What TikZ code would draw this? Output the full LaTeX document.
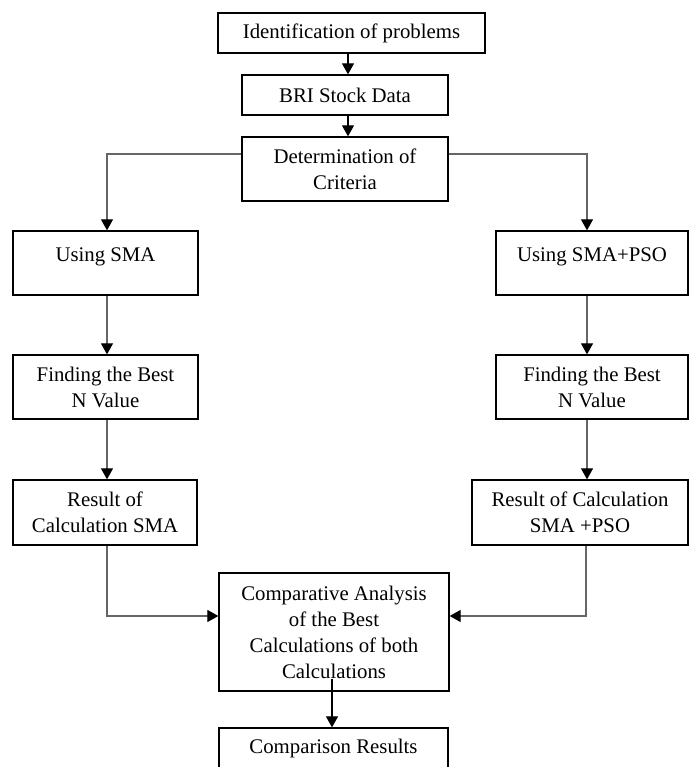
\documentclass[tikz,border=0pt]{standalone}
\usepackage{fontspec}
\setmainfont{Liberation Serif}
\usetikzlibrary{arrows.meta}

\begin{document}
\begin{tikzpicture}[x=1pt,y=1pt,
	box/.style={draw,line width=1.3pt,inner sep=0pt,align=center,minimum height=64pt,font=\fontsize{20.8}{26}\selectfont},
	arr/.style={line width=1.1pt,black!60,-{Triangle[width=12pt,length=11pt,color=black]}}]
	\useasboundingbox (0,0) rectangle (689,767);
	\node[box,minimum width=267pt,minimum height=40pt] (idp) at (351.5,734) {Identification of problems};
	\node[box,minimum width=206pt,minimum height=40pt] (bri) at (345,672) {BRI Stock Data};
	\node[box,minimum width=206pt] (crit) at (345,598) {Determination of\\Criteria};
	\node[box,minimum width=185pt,text depth=16pt] (sma) at (105.5,504) {Using SMA};
	\node[box,minimum width=192pt,text depth=16pt] (smapso) at (592,504) {Using SMA+PSO};
	\node[box,minimum width=185pt] (bestl) at (105.5,380) {Finding the Best\\N Value};
	\node[box,minimum width=192pt] (bestr) at (592,380) {Finding the Best\\N Value};
	\node[box,minimum width=184pt,minimum height=65pt] (resl) at (105,254.5) {Result of\\Calculation SMA};
	\node[box,minimum width=216pt,minimum height=65pt] (resr) at (580,254.5) {Result of Calculation\\SMA +PSO};
	\node[box,minimum width=230pt,minimum height=118pt] (cmp) at (334,135) {Comparative Analysis\\of the Best\\Calculations of both\\Calculations};
	\node[box,minimum width=229pt,minimum height=40pt] (res) at (333.5,19) {Comparison Results};
	\draw[arr,black] (idp.south -| 348,0) -- (bri.north -| 348,0);
	\draw[arr,black] (bri.south -| 348,0) -- (crit.north -| 348,0);
	\draw[arr] ([yshift=15pt]crit.west) -| ([xshift=1.5pt]sma.north);
	\draw[arr] ([yshift=15pt]crit.east) -| ([xshift=-5pt]smapso.north);
	\draw[arr] ([xshift=1.5pt]sma.south) -- ([xshift=1.5pt]bestl.north);
	\draw[arr] ([xshift=-5pt]smapso.south) -- ([xshift=-5pt]bestr.north);
	\draw[arr] ([xshift=1.5pt]bestl.south) -- ([xshift=2pt]resl.north);
	\draw[arr] ([xshift=-5pt]bestr.south) -- ([xshift=7pt]resr.north);
	\draw[arr] ([xshift=2pt]resl.south) |- ([yshift=16pt]cmp.west);
	\draw[arr] ([xshift=6pt]resr.south) |- ([yshift=16pt]cmp.east);
	\draw[arr,black] ([xshift=-2pt,yshift=13pt]cmp.south) -- ([xshift=-1.5pt]res.north);
\end{tikzpicture}
\end{document}
